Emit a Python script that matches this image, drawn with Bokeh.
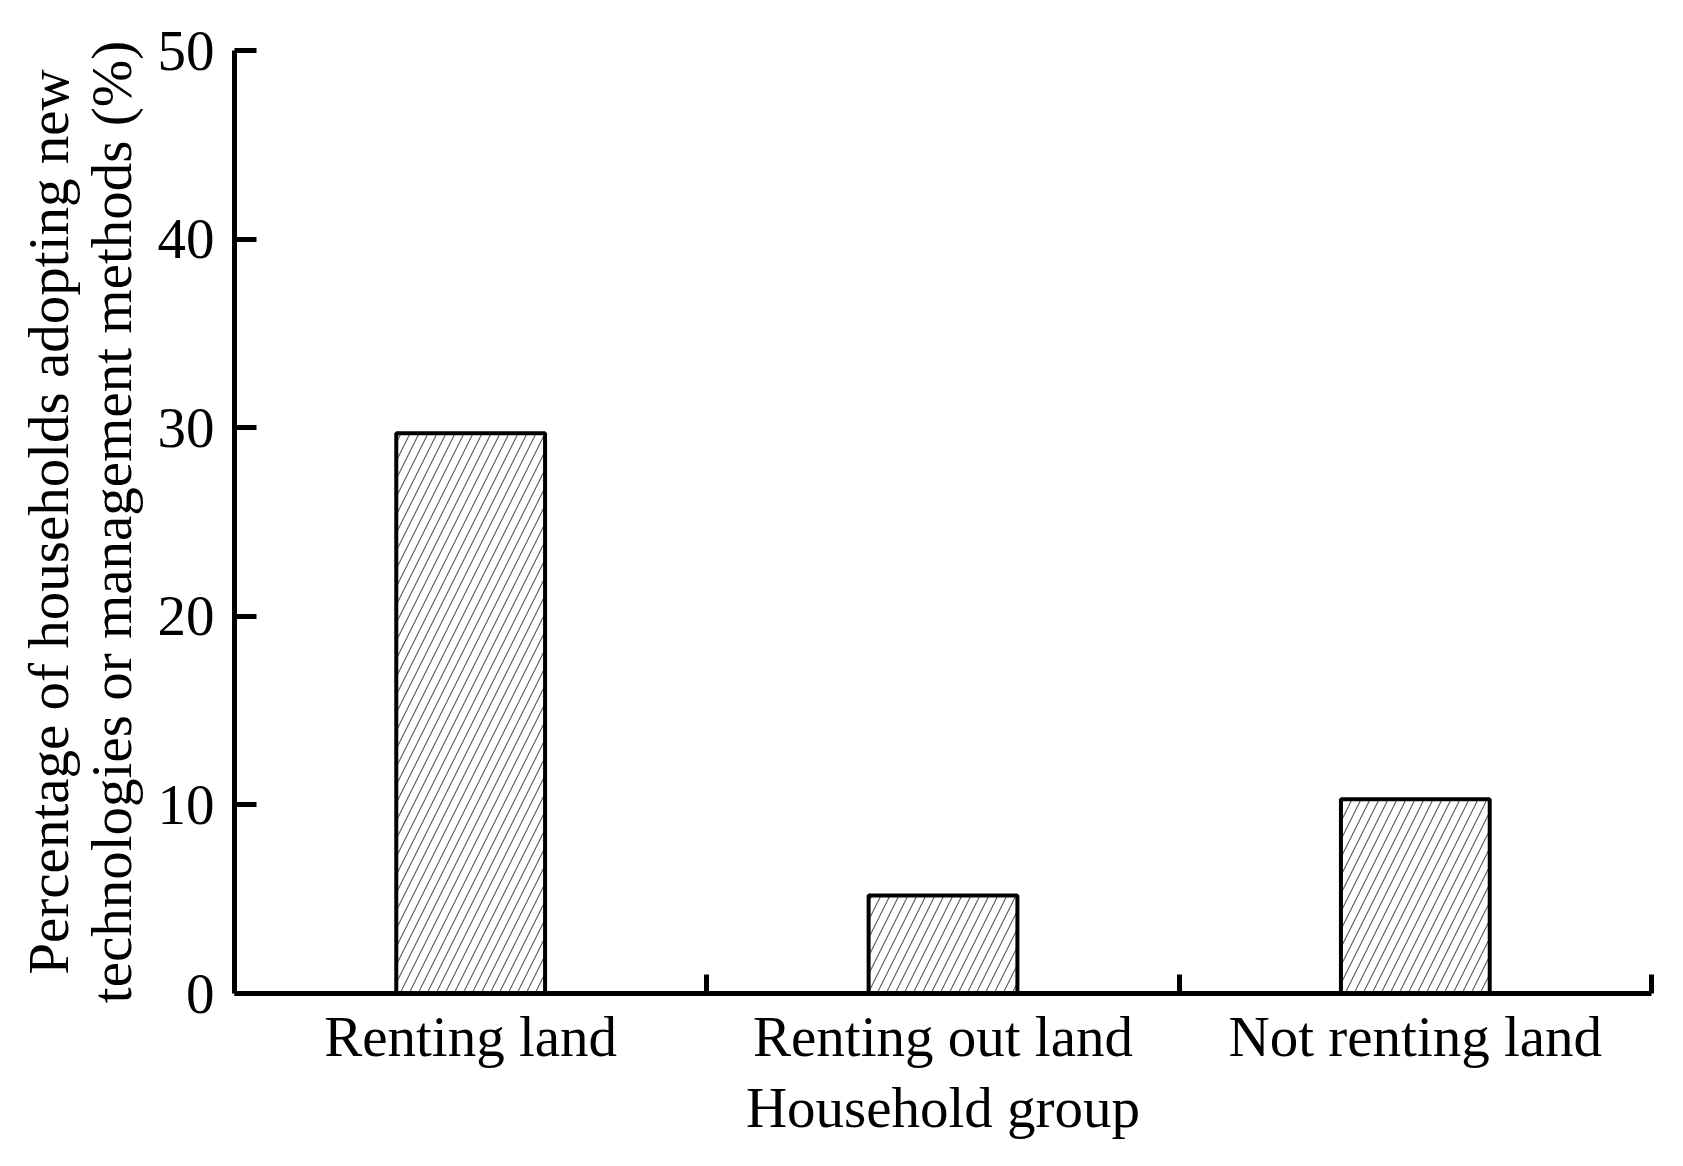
from bokeh.plotting import figure
from bokeh.models import Range1d, FixedTicker
from bokeh.embed import file_html
from bokeh.resources import INLINE

categories = ["Renting land", "Renting out land", "Not renting land"]
values = [29.7, 5.2, 10.3]
y_ticks = [0, 10, 20, 30, 40, 50]
x_title = "Household group"
y_title = "Percentage of households adopting new\ntechnologies or management methods (%)"

FONT = "Liberation Serif"
FS = "57px"

centers = [i + 0.5 for i in range(len(categories))]
bounds = [i + 1 for i in range(len(categories))]

p = figure(width=1675, height=1150, output_backend="svg", toolbar_location=None,
           x_range=Range1d(0, len(categories)), y_range=Range1d(0, 50),
           min_border_left=234, min_border_right=24, min_border_top=50, min_border_bottom=157)
p.outline_line_color = None
p.grid.visible = False
p.background_fill_color = "white"
p.border_fill_color = "white"

p.vbar(x=centers, top=values, bottom=0, width=0.315, fill_color="white",
       line_color="black", line_width=4, hatch_pattern="/", hatch_color="#3a3a3a",
       hatch_weight=1.1, hatch_scale=18, hatch_alpha=0.85)

xa = p.xaxis[0]
xa.ticker = FixedTicker(ticks=centers, minor_ticks=bounds)
xa.major_label_overrides = {c: lab for c, lab in zip(centers, categories)}
xa.major_tick_in = 0
xa.major_tick_out = 0
xa.minor_tick_in = 19
xa.minor_tick_out = 0
xa.minor_tick_line_width = 5
xa.minor_tick_line_color = "black"
xa.axis_line_width = 5
xa.axis_line_color = "black"
xa.major_label_standoff = 11
xa.major_label_text_font = FONT
xa.major_label_text_font_size = FS
xa.major_label_text_color = "black"
xa.axis_label = x_title
xa.axis_label_text_font = FONT
xa.axis_label_text_font_size = FS
xa.axis_label_text_font_style = "normal"
xa.axis_label_text_color = "black"
xa.axis_label_standoff = 5

ya = p.yaxis[0]
ya.ticker = FixedTicker(ticks=y_ticks)
ya.major_tick_in = 22
ya.major_tick_out = 0
ya.minor_tick_in = 0
ya.minor_tick_out = 0
ya.major_tick_line_width = 5
ya.major_tick_line_color = "black"
ya.axis_line_width = 5
ya.axis_line_color = "black"
ya.major_label_standoff = 20
ya.major_label_text_font = FONT
ya.major_label_text_font_size = FS
ya.major_label_text_color = "black"
ya.axis_label = y_title
ya.axis_label_text_font = FONT
ya.axis_label_text_font_size = FS
ya.axis_label_text_font_style = "normal"
ya.axis_label_text_color = "black"
ya.axis_label_text_line_height = 1.0
ya.axis_label_standoff = 12

open("out.html", "w").write(file_html(p, INLINE))
